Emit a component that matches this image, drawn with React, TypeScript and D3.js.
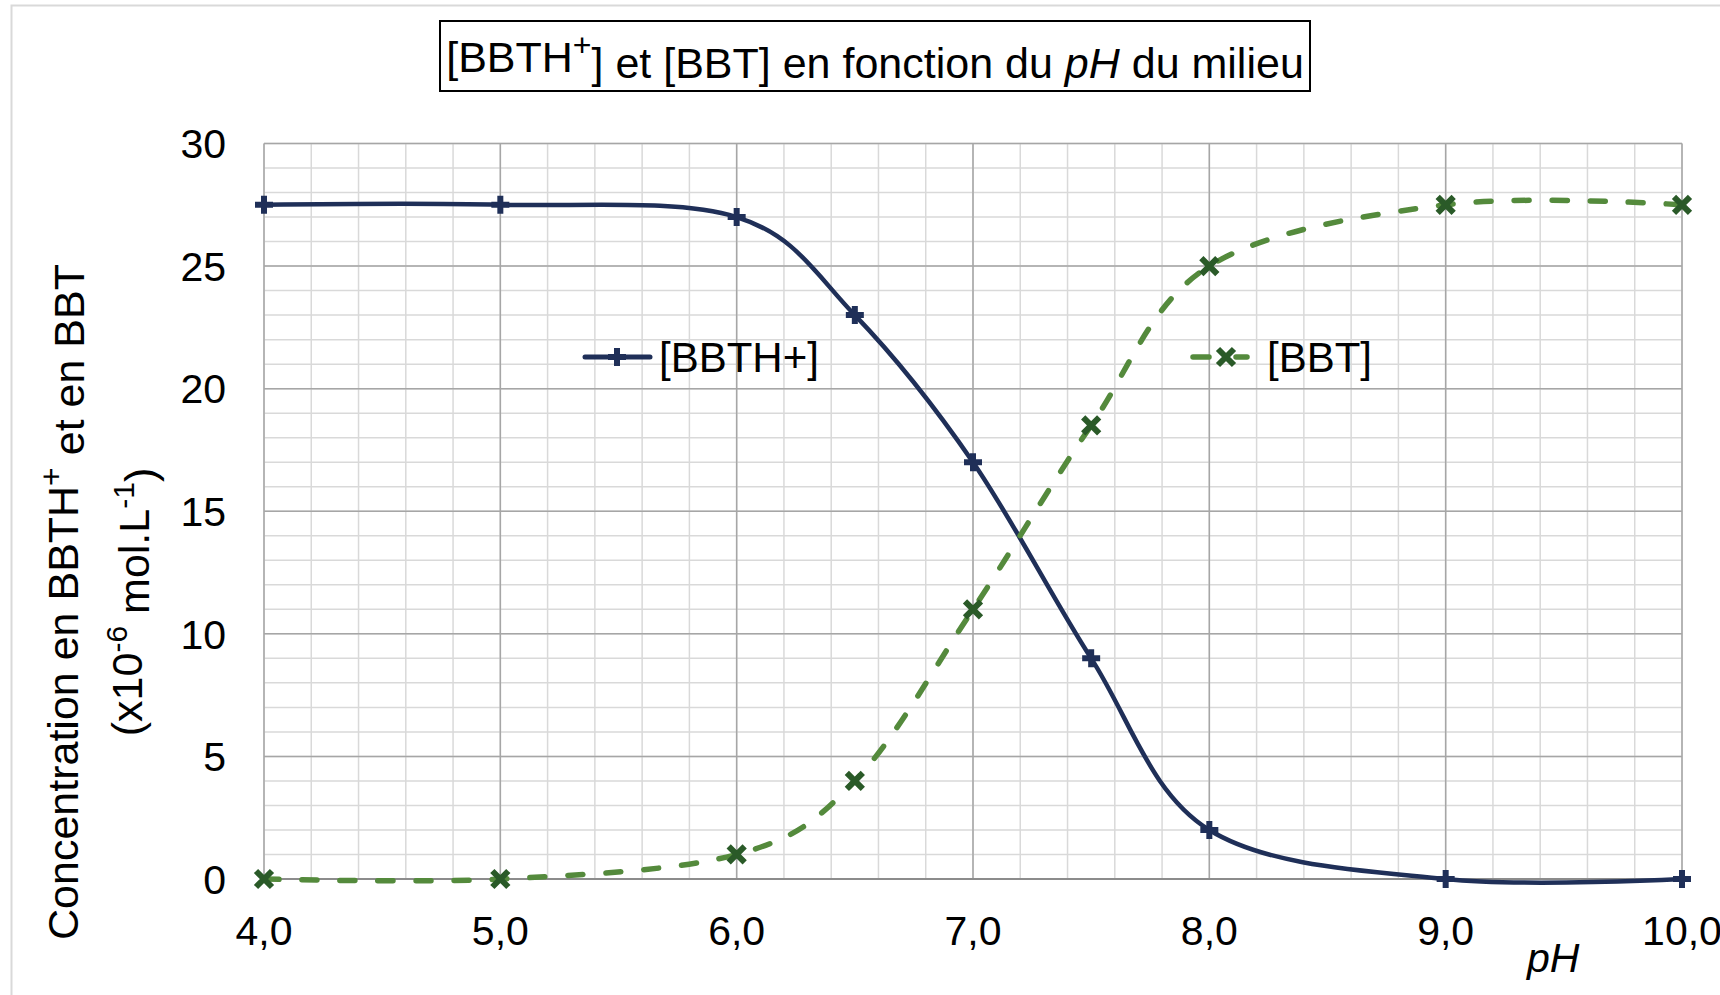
import React, { useEffect, useRef } from 'react';
import * as d3 from 'd3';

// pH values and measured concentrations (x10^-6 mol/L)
const phValues = [4.0, 5.0, 6.0, 6.5, 7.0, 7.5, 8.0, 9.0, 10.0];
const bbthValues = [27.5, 27.5, 27.0, 23.0, 17.0, 9.0, 2.0, 0.0, 0.0];
const bbtValues = [0.0, 0.0, 1.0, 4.0, 11.0, 18.5, 25.0, 27.5, 27.5];
const xTicks = [4, 5, 6, 7, 8, 9, 10];
const yTicks = [0, 5, 10, 15, 20, 25, 30];

const W = 1720;
const H = 995;
const FONT = '"Liberation Sans", Arial, sans-serif';
const NAVY = '#1f2f58';
const GREEN = '#548a3c';
const DARK_GREEN = '#2a5a28';

type G = d3.Selection<SVGGElement, unknown, null, undefined>;

const App: React.FC = () => {
  const svgRef = useRef<SVGSVGElement>(null);

  useEffect(() => {
    document.body.style.margin = '0';
    if (!svgRef.current) return;
    const svg = d3.select(svgRef.current);
    svg.selectAll('*').remove();

    const x = d3.scaleLinear().domain([4, 10]).range([264, 1682]);
    const y = d3.scaleLinear().domain([0, 30]).range([879, 143.5]);

    // outer chart border
    svg.append('path')
      .attr('d', `M11.5,${H} L11.5,5.5 L${W},5.5`)
      .attr('fill', 'none')
      .attr('stroke', '#d9d9d9')
      .attr('stroke-width', 2);

    const grid = svg.append('g');
    // minor grid
    grid.selectAll('.vminor')
      .data(d3.range(4, 10.001, 0.2))
      .enter().append('line')
      .attr('x1', d => x(d)).attr('x2', d => x(d))
      .attr('y1', y(0)).attr('y2', y(30))
      .attr('stroke', '#d9d9d9').attr('stroke-width', 1.5);
    grid.selectAll('.hminor')
      .data(d3.range(0, 31, 1))
      .enter().append('line')
      .attr('x1', x(4)).attr('x2', x(10))
      .attr('y1', d => y(d)).attr('y2', d => y(d))
      .attr('stroke', '#d9d9d9').attr('stroke-width', 1.5);
    // major grid
    grid.selectAll('.vmajor')
      .data(xTicks)
      .enter().append('line')
      .attr('x1', d => x(d)).attr('x2', d => x(d))
      .attr('y1', y(0)).attr('y2', y(30))
      .attr('stroke', '#a6a6a6').attr('stroke-width', 1.5);
    grid.selectAll('.hmajor')
      .data(yTicks)
      .enter().append('line')
      .attr('x1', x(4)).attr('x2', x(10))
      .attr('y1', d => y(d)).attr('y2', d => y(d))
      .attr('stroke', '#a6a6a6').attr('stroke-width', 1.5);
    // x axis line
    svg.append('line')
      .attr('x1', x(4)).attr('x2', x(10))
      .attr('y1', y(0)).attr('y2', y(0))
      .attr('stroke', '#8c8c8c').attr('stroke-width', 2);

    // tick labels
    svg.selectAll('.ylab')
      .data(yTicks)
      .enter().append('text')
      .attr('x', 226)
      .attr('y', d => y(d))
      .attr('dy', '0.36em')
      .attr('text-anchor', 'end')
      .style('font-family', FONT)
      .style('font-size', '41px')
      .text(d => String(d));
    svg.selectAll('.xlab')
      .data(xTicks)
      .enter().append('text')
      .attr('x', d => x(d))
      .attr('y', 945)
      .attr('text-anchor', 'middle')
      .style('font-family', FONT)
      .style('font-size', '41px')
      .text(d => d.toFixed(1).replace('.', ','));

    svg.append('text')
      .attr('x', 1527).attr('y', 972)
      .style('font-family', FONT)
      .style('font-size', '41px')
      .style('font-style', 'italic')
      .text('pH');

    // y axis title (two lines)
    const t1 = svg.append('text')
      .attr('transform', 'translate(78,602) rotate(-90)')
      .attr('text-anchor', 'middle')
      .style('font-family', FONT)
      .style('font-size', '43px');
    t1.append('tspan').text('Concentration en BBTH');
    t1.append('tspan').attr('dy', '-0.5em').style('font-size', '32px').text('+');
    t1.append('tspan').attr('dy', '0.5em').text(' et en BBT');

    const t2 = svg.append('text')
      .attr('transform', 'translate(142,602) rotate(-90)')
      .attr('text-anchor', 'middle')
      .style('font-family', FONT)
      .style('font-size', '43px');
    t2.append('tspan').text('(x10');
    t2.append('tspan').attr('dy', '-0.5em').style('font-size', '30px').text('-6');
    t2.append('tspan').attr('dy', '0.5em').text(' mol.L');
    t2.append('tspan').attr('dy', '-0.5em').style('font-size', '30px').text('-1');
    t2.append('tspan').attr('dy', '0.5em').text(')');

    // title box
    svg.append('rect')
      .attr('x', 440).attr('y', 21)
      .attr('width', 870).attr('height', 70)
      .attr('fill', 'white')
      .attr('stroke', 'black').attr('stroke-width', 2);
    const title = svg.append('text')
      .attr('x', 875).attr('y', 72)
      .attr('text-anchor', 'middle')
      .style('font-family', FONT)
      .style('font-size', '43px');
    title.append('tspan').text('[BBTH');
    title.append('tspan').attr('dy', '-0.5em').style('font-size', '32px').text('+');
    title.append('tspan').attr('dy', '0.5em').text('] et [BBT] en fonction du ');
    title.append('tspan').style('font-style', 'italic').text('pH');
    title.append('tspan').text(' du milieu');

    const curve = d3.curveCardinal.tension(0);
    const line = d3.line<[number, number]>()
      .x(d => x(d[0])).y(d => y(d[1])).curve(curve);

    // BBTH+ series
    const pts1: [number, number][] = phValues.map((p, i) => [p, bbthValues[i]]);
    svg.append('path')
      .attr('d', line(pts1) as string)
      .attr('fill', 'none')
      .attr('stroke', NAVY)
      .attr('stroke-width', 4.5)
      .attr('stroke-linecap', 'round');

    // BBT series
    const pts2: [number, number][] = phValues.map((p, i) => [p, bbtValues[i]]);
    svg.append('path')
      .attr('d', line(pts2) as string)
      .attr('fill', 'none')
      .attr('stroke', GREEN)
      .attr('stroke-width', 5.5)
      .attr('stroke-dasharray', '15 23')
      .attr('stroke-linecap', 'round');

    const plus = (g: G, cx: number, cy: number) => {
      g.append('path')
        .attr('d', `M${cx - 9},${cy} L${cx + 9},${cy} M${cx},${cy - 9} L${cx},${cy + 9}`)
        .attr('stroke', NAVY).attr('stroke-width', 6);
    };
    const cross = (g: G, cx: number, cy: number) => {
      g.append('path')
        .attr('d', `M${cx - 8},${cy - 8} L${cx + 8},${cy + 8} M${cx - 8},${cy + 8} L${cx + 8},${cy - 8}`)
        .attr('stroke', DARK_GREEN).attr('stroke-width', 6);
    };

    const markers = svg.append('g');
    pts1.forEach(d => plus(markers, x(d[0]), y(d[1])));
    pts2.forEach(d => cross(markers, x(d[0]), y(d[1])));

    // legend
    const leg = svg.append('g');
    leg.append('line')
      .attr('x1', 585).attr('x2', 650).attr('y1', 357).attr('y2', 357)
      .attr('stroke', NAVY).attr('stroke-width', 5).attr('stroke-linecap', 'round');
    plus(leg, 617, 357);
    leg.append('text')
      .attr('x', 659).attr('y', 357).attr('dy', '0.36em')
      .style('font-family', FONT).style('font-size', '42px')
      .text('[BBTH+]');

    leg.append('line')
      .attr('x1', 1193).attr('x2', 1209).attr('y1', 357).attr('y2', 357)
      .attr('stroke', GREEN).attr('stroke-width', 5.5).attr('stroke-linecap', 'round');
    leg.append('line')
      .attr('x1', 1236).attr('x2', 1247).attr('y1', 357).attr('y2', 357)
      .attr('stroke', GREEN).attr('stroke-width', 5.5).attr('stroke-linecap', 'round');
    cross(leg, 1226, 357);
    leg.append('text')
      .attr('x', 1267).attr('y', 357).attr('dy', '0.36em')
      .style('font-family', FONT).style('font-size', '42px')
      .text('[BBT]');
  }, []);

  return (
    <svg
      ref={svgRef}
      width={W}
      height={H}
      style={{ display: 'block', background: 'white' }}
    ></svg>
  );
};

export default App;
